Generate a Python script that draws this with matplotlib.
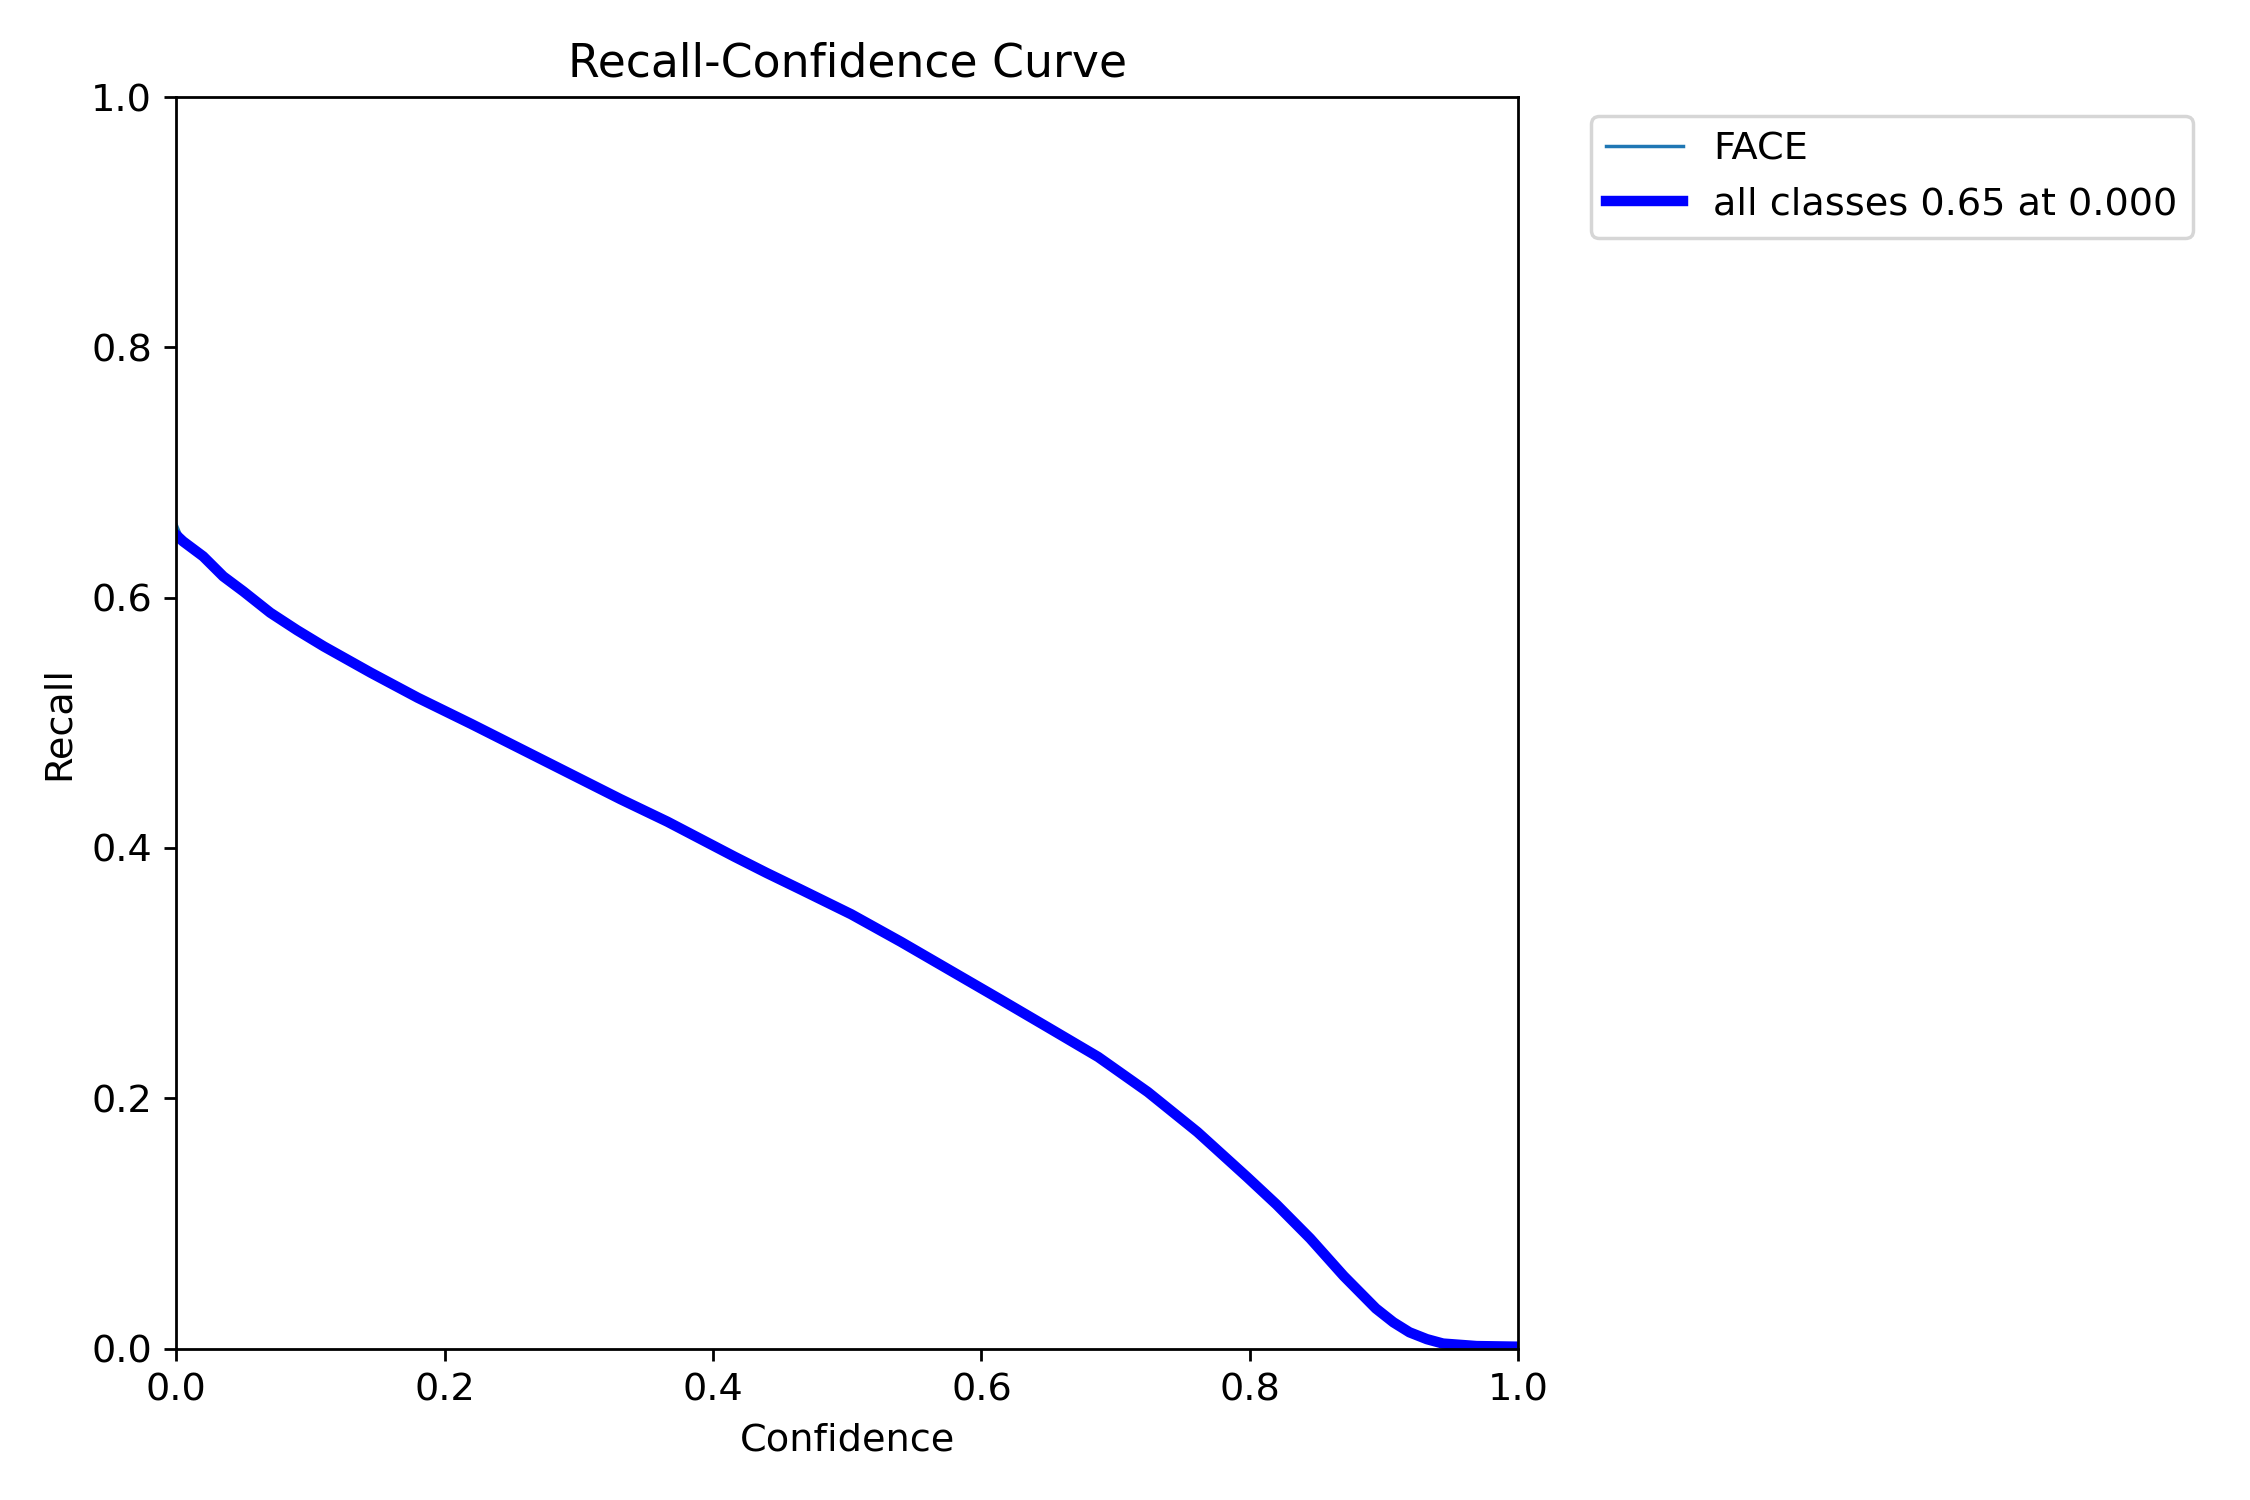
import matplotlib
matplotlib.use("Agg")
import matplotlib.pyplot as plt

confidence = [0.000, 0.005, 0.020, 0.035, 0.050, 0.070, 0.090, 0.110, 0.145, 0.180,
              0.220, 0.257, 0.294, 0.331, 0.366, 0.391, 0.416, 0.440, 0.465, 0.503,
              0.540, 0.577, 0.614, 0.649, 0.687, 0.724, 0.761, 0.798, 0.820, 0.845,
              0.870, 0.894, 0.907, 0.919, 0.932, 0.944, 0.969, 1.000]
all_recall = [0.650, 0.645, 0.633, 0.617, 0.605, 0.588, 0.574, 0.561, 0.540, 0.520,
              0.499, 0.479, 0.459, 0.439, 0.421, 0.407, 0.393, 0.380, 0.367, 0.347,
              0.325, 0.302, 0.279, 0.257, 0.233, 0.205, 0.173, 0.137, 0.115, 0.088,
              0.058, 0.032, 0.021, 0.013, 0.0075, 0.004, 0.002, 0.0015]
face_recall = [0.658, 0.645, 0.633, 0.617, 0.605, 0.588, 0.574, 0.561, 0.540, 0.520,
               0.499, 0.479, 0.459, 0.439, 0.421, 0.407, 0.393, 0.380, 0.367, 0.347,
               0.325, 0.302, 0.279, 0.257, 0.233, 0.205, 0.173, 0.137, 0.115, 0.088,
               0.058, 0.032, 0.021, 0.013, 0.0075, 0.004, 0.002, 0.0015]
class_name = "FACE"
best_value = 0.65
best_conf = 0.000

plt.rcParams["font.size"] = 11

fig, ax = plt.subplots(1, 1, figsize=(9, 6), tight_layout=True)
ax.plot(confidence, face_recall, linewidth=1, label=class_name)
ax.plot(confidence, all_recall, linewidth=3, color="blue",
        label=f"all classes {best_value:.2f} at {best_conf:.3f}")
ax.set_xlabel("Confidence")
ax.set_ylabel("Recall")
ax.set_xlim(0, 1)
ax.set_ylim(0, 1)
ax.legend(bbox_to_anchor=(1.04, 1), loc="upper left")
ax.set_title("Recall-Confidence Curve")
fig.savefig("out.png", dpi=250)
